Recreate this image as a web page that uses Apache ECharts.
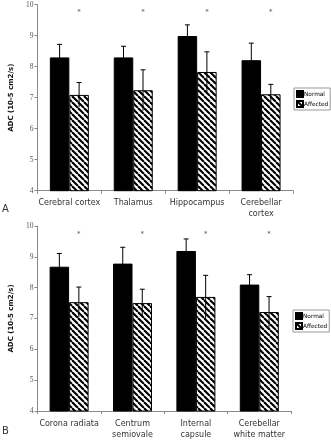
<!DOCTYPE html>
<html><head><meta charset="utf-8">
<script src="https://cdn.jsdelivr.net/npm/echarts@6/dist/echarts.min.js"></script>
<style>html,body{margin:0;padding:0;background:#fff}#c{width:331px;height:440px}</style>
</head><body><div id="c"></div>
<script>
// Panel A
const catsA = ['Cerebral cortex', 'Thalamus', 'Hippocampus', 'Cerebellar\ncortex'];
const normalA = [8.30, 8.30, 8.99, 8.21];
const normalErrA = [0.42, 0.36, 0.36, 0.55];
const affectedA = [7.09, 7.24, 7.83, 7.11];
const affectedErrA = [0.40, 0.66, 0.65, 0.32];
const starA = [9.75, 9.75, 9.75, 9.75];
// Panel B
const catsB = ['Corona radiata', 'Centrum\nsemiovale', 'Internal\ncapsule', 'Cerebellar\nwhite matter'];
const normalB = [8.68, 8.78, 9.19, 8.10];
const normalErrB = [0.43, 0.53, 0.39, 0.32];
const affectedB = [7.53, 7.50, 7.70, 7.21];
const affectedErrB = [0.49, 0.45, 0.70, 0.50];
const starB = [9.75, 9.75, 9.75, 9.75];
const yTicks = [4, 5, 6, 7, 8, 9, 10];
const yTitle = 'ADC (10-5 cm2/s)';

// hatch pattern
const pc = document.createElement('canvas');
pc.width = 6; pc.height = 6;
const g = pc.getContext('2d');
g.fillStyle = '#fff'; g.fillRect(0, 0, 6, 6);
g.strokeStyle = '#000'; g.lineWidth = 2.1;
[-6, 0, 6].forEach(c => { g.beginPath(); g.moveTo(c, 0); g.lineTo(c + 6, 6); g.stroke(); });
const hatch = { image: pc, repeat: 'repeat' };

const HALF = 9.75;
function errSeries(vals, errs, idx, side) {
  return {
    type: 'custom', xAxisIndex: idx, yAxisIndex: idx, z: 5, silent: true,
    data: vals.map((v, i) => [i, v, errs[i]]),
    renderItem: function (params, api) {
      const i = api.value(0), v = api.value(1), e = api.value(2);
      const top = api.coord([i, v + e]);
      const bot = api.coord([i, v - e]);
      const x = top[0] + side * HALF;
      return {
        type: 'group', children: [
          { type: 'line', shape: { x1: x, y1: top[1], x2: x, y2: bot[1] }, style: { stroke: '#000', lineWidth: 1 } },
          { type: 'line', shape: { x1: x - 2.5, y1: top[1], x2: x + 2.5, y2: top[1] }, style: { stroke: '#000', lineWidth: 1 } }
        ]
      };
    }
  };
}
function starSeries(vals, idx) {
  return {
    type: 'custom', xAxisIndex: idx, yAxisIndex: idx, z: 5, silent: true,
    data: vals.map((v, i) => [i, v]),
    renderItem: function (params, api) {
      const p = api.coord([api.value(0), api.value(1)]);
      return { type: 'text', x: p[0] + HALF, y: p[1], style: { text: '*', fill: '#555', fontSize: 7, fontFamily: 'DejaVu Sans', align: 'center', verticalAlign: 'middle' } };
    }
  };
}
function barSeries(name, vals, idx, color) {
  return {
    name: name, type: 'bar', xAxisIndex: idx, yAxisIndex: idx, data: vals,
    barWidth: 19.5, barGap: '0%',
    itemStyle: { color: color, borderColor: '#000', borderWidth: 1 }
  };
}
function xAxis(cats, idx) {
  return {
    type: 'category', gridIndex: idx, data: cats,
    axisLine: { lineStyle: { color: '#8a8a8a', width: 1 } },
    axisTick: { show: true, length: 3, interval: 0, lineStyle: { color: '#8a8a8a' } },
    axisLabel: { interval: 0, margin: 7, fontSize: 8, lineHeight: 11, color: '#333', fontFamily: 'DejaVu Sans' }
  };
}
function yAxis(idx) {
  return {
    type: 'value', gridIndex: idx, min: yTicks[0], max: yTicks[yTicks.length - 1], interval: 1,
    name: yTitle, nameLocation: 'middle', nameGap: 17, nameRotate: 90,
    nameTextStyle: { fontSize: 7, fontWeight: 'bold', color: '#111', fontFamily: 'DejaVu Sans' },
    axisLine: { show: true, lineStyle: { color: '#8a8a8a', width: 1 } },
    axisTick: { show: true, length: 3, lineStyle: { color: '#8a8a8a' } },
    axisLabel: { fontSize: 7.5, color: '#555', margin: 4, fontFamily: 'Liberation Serif' },
    splitLine: { show: false }
  };
}
function legend(top, left) {
  return {
    orient: 'vertical', left: left, top: top, selectedMode: false,
    data: ['Normal', 'Affected'], icon: 'rect', itemWidth: 6, itemHeight: 6, itemGap: 2,
    padding: [2, 2, 2, 2], borderColor: '#999', borderWidth: 1, backgroundColor: '#fff',
    textStyle: { fontSize: 5.8, color: '#000', fontFamily: 'DejaVu Sans', padding: [0, 0, 0, -4] }
  };
}

const chart = echarts.init(document.getElementById('c'), null, { renderer: 'canvas' });
chart.setOption({
  animation: false,
  backgroundColor: '#fff',
  grid: [
    { left: 25, top: 4.7, width: 268, height: 186 },
    { left: 25, top: 226, width: 266, height: 186 }
  ],
  xAxis: [xAxis(catsA, 0), xAxis(catsB, 1)],
  yAxis: [yAxis(0), yAxis(1)],
  legend: [legend(88, 294), legend(310, 293)],
  graphic: [
    { type: 'text', left: 2, top: 204, style: { text: 'A', fontSize: 10, fill: '#333', fontFamily: 'DejaVu Sans' } },
    { type: 'text', left: 2, top: 426, style: { text: 'B', fontSize: 10, fill: '#333', fontFamily: 'DejaVu Sans' } }
  ],
  series: [
    barSeries('Normal', normalA, 0, '#000'),
    barSeries('Affected', affectedA, 0, hatch),
    errSeries(normalA, normalErrA, 0, -1),
    errSeries(affectedA, affectedErrA, 0, 1),
    starSeries(starA, 0),
    barSeries('Normal', normalB, 1, '#000'),
    barSeries('Affected', affectedB, 1, hatch),
    errSeries(normalB, normalErrB, 1, -1),
    errSeries(affectedB, affectedErrB, 1, 1),
    starSeries(starB, 1)
  ]
});
</script></body></html>
